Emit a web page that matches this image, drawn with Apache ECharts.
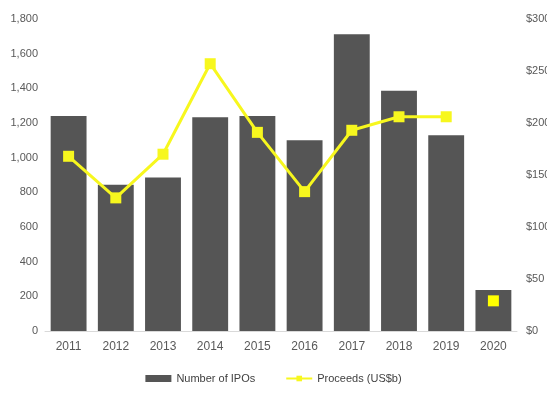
<!DOCTYPE html>
<html lang="en">

<head>
    <meta charset="UTF-8">
    <title>IPOs and proceeds</title>
    <script src="https://cdn.jsdelivr.net/npm/echarts@6/dist/echarts.min.js"></script>
    <style>
        body { margin: 0; background: #fff; }
    </style>
</head>

<body>
    <div id="main" style="width: 547px;height:401px;"></div>
    <script type="text/javascript">
        // data
        var years = ['2011', '2012', '2013', '2014', '2015', '2016', '2017', '2018', '2019', '2020'];
        var ipoCount = [1240, 844, 885, 1233, 1240, 1100, 1712, 1386, 1129, 237];
        var proceeds = [168, 128, 170, 257, 191, 134, 193, 206, 206, 29];

        // 2020 is drawn as a lone point, not joined to the line
        var lineData = proceeds.map(function (v, i) { return i < 9 ? v : null; });
        var pointData = proceeds.map(function (v, i) { return i === 9 ? v : null; });

        var myChart = echarts.init(document.getElementById('main'));

        var axisText = { color: '#595959', fontSize: 11, fontFamily: 'Liberation Sans' };

        var option = {
            animation: false,
            grid: { left: 45, right: 30, top: 19, bottom: 70, outerBoundsMode: 'none' },
            legend: {
                bottom: 12,
                left: 'center',
                itemGap: 30,
                itemWidth: 26,
                itemHeight: 7,
                textStyle: { color: '#404040', fontSize: 11, fontFamily: 'Liberation Sans' },
                data: [
                    { name: 'Number of IPOs', icon: 'rect' },
                    { name: 'Proceeds (US$b)' }
                ]
            },
            xAxis: {
                type: 'category',
                data: years,
                axisLine: { lineStyle: { color: '#d9d9d9' } },
                axisTick: { show: false },
                axisLabel: { color: '#595959', fontSize: 12, fontFamily: 'Liberation Sans', margin: 10 }
            },
            yAxis: [
                {
                    type: 'value',
                    min: 0,
                    max: 1800,
                    interval: 200,
                    splitLine: { show: false },
                    axisLine: { show: false },
                    axisTick: { show: false },
                    axisLabel: Object.assign({
                        margin: 7,
                        formatter: function (v) { return v.toLocaleString('en-US'); }
                    }, axisText)
                },
                {
                    type: 'value',
                    min: 0,
                    max: 300,
                    interval: 50,
                    splitLine: { show: false },
                    axisLine: { show: false },
                    axisTick: { show: false },
                    axisLabel: Object.assign({
                        margin: 9,
                        formatter: '${value}'
                    }, axisText)
                }
            ],
            series: [
                {
                    name: 'Number of IPOs',
                    type: 'bar',
                    data: ipoCount,
                    barCategoryGap: '24%',
                    itemStyle: { color: '#555555' }
                },
                {
                    name: 'Proceeds (US$b)',
                    type: 'line',
                    yAxisIndex: 1,
                    data: lineData,
                    symbol: 'rect',
                    symbolSize: 11,
                    lineStyle: { color: '#f7f71e', width: 3 },
                    itemStyle: { color: '#f7f71e' }
                },
                {
                    name: 'Proceeds (US$b)',
                    type: 'line',
                    yAxisIndex: 1,
                    data: pointData,
                    symbol: 'rect',
                    symbolSize: 11,
                    showAllSymbol: true,
                    lineStyle: { color: '#f7f71e', width: 3 },
                    itemStyle: { color: '#ffff00' }
                }
            ]
        };

        myChart.setOption(option);
    </script>
</body>

</html>
